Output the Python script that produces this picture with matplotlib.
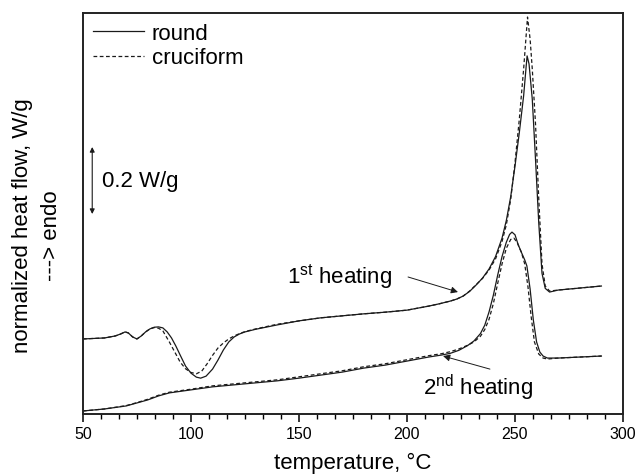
import numpy as np
import matplotlib
matplotlib.use("Agg")
import matplotlib.pyplot as plt
from matplotlib.ticker import MultipleLocator

plt.rcParams["font.family"] = ["Liberation Sans", "DejaVu Sans"]
plt.rcParams["mathtext.fontset"] = "custom"
plt.rcParams["mathtext.rm"] = "Liberation Sans"

# ---------------------------
# Data (temperature in °C, heat flow in W/g, offset arbitrary)
# ---------------------------
t1_round = [50, 60, 65, 67.5, 69.5, 71, 73, 75, 77, 79, 81, 83, 85, 87, 89, 91, 93, 95,
            97.5, 100, 102.5, 104.5, 107, 110, 112.5, 115, 117.5, 120, 122.5, 125, 130,
            140, 150, 160, 170, 180, 190, 200, 210, 215, 220, 223, 226, 229, 232, 235,
            238, 241, 244, 246, 248, 250, 252, 254, 255, 255.6, 256.5, 258, 259.5, 261,
            262.5, 264, 266, 270, 280, 290]
hf1_round = [0.224, 0.227, 0.233, 0.239, 0.245, 0.242, 0.230, 0.224, 0.233, 0.245, 0.254,
             0.259, 0.260, 0.257, 0.245, 0.227, 0.203, 0.176, 0.143, 0.122, 0.110, 0.107,
             0.113, 0.134, 0.161, 0.191, 0.215, 0.230, 0.239, 0.245, 0.253, 0.266, 0.278,
             0.287, 0.293, 0.299, 0.304, 0.310, 0.322, 0.329, 0.337, 0.343, 0.352, 0.366,
             0.385, 0.406, 0.433, 0.470, 0.525, 0.578, 0.648, 0.740, 0.840, 0.950, 1.025,
             1.069, 1.045, 0.940, 0.760, 0.570, 0.420, 0.375, 0.364, 0.370, 0.376, 0.382]

t1_cross = [50, 60, 65, 67.5, 69.5, 71, 73, 75, 77, 79, 81, 83, 85, 87, 90, 92.5, 95,
            97.5, 100, 102.5, 105, 107.5, 110, 112.5, 115, 117.5, 120, 122.5, 125, 130,
            140, 150, 160, 170, 180, 190, 200, 210, 215, 220, 223, 226, 229, 232, 235,
            238, 241, 244, 246, 248, 250, 252, 254, 255.8, 257, 258, 259.5, 261, 262.5,
            264, 266, 270, 280, 290]
hf1_cross = [0.224, 0.227, 0.233, 0.239, 0.245, 0.242, 0.230, 0.224, 0.233, 0.245, 0.254,
             0.258, 0.256, 0.248, 0.215, 0.185, 0.155, 0.135, 0.124, 0.120, 0.128, 0.150,
             0.175, 0.197, 0.212, 0.224, 0.233, 0.240, 0.246, 0.254, 0.268, 0.278, 0.287,
             0.293, 0.299, 0.304, 0.310, 0.322, 0.329, 0.337, 0.343, 0.352, 0.367, 0.386,
             0.405, 0.430, 0.463, 0.515, 0.565, 0.640, 0.750, 0.880, 1.030, 1.185, 1.119,
             1.030, 0.866, 0.642, 0.448, 0.382, 0.367, 0.370, 0.376, 0.382]

t2_round = [50, 60, 70, 75, 80, 85, 90, 100, 110, 120, 130, 140, 150, 160, 170, 180, 190,
            200, 210, 216, 220, 224, 228, 231, 234, 236, 238, 240, 242, 244, 246, 247.5,
            248.6, 250, 251.5, 253, 254.5, 255.5, 257, 258.5, 260, 261.5, 263, 265, 270,
            280, 290]
hf2_round = [0.009, 0.015, 0.024, 0.033, 0.042, 0.054, 0.063, 0.072, 0.081, 0.087, 0.093,
             0.099, 0.107, 0.116, 0.125, 0.137, 0.146, 0.158, 0.170, 0.176, 0.181, 0.190,
             0.204, 0.218, 0.240, 0.265, 0.305, 0.355, 0.415, 0.470, 0.513, 0.536, 0.543,
             0.535, 0.505, 0.482, 0.460, 0.442, 0.373, 0.280, 0.215, 0.185, 0.173, 0.167,
             0.167, 0.170, 0.173]

t2_cross = [50, 60, 70, 75, 80, 85, 90, 100, 110, 120, 130, 140, 150, 160, 170, 180, 190,
            200, 210, 216, 220, 224, 228, 231, 234, 236, 238, 240, 242, 244, 246, 248,
            249.5, 251, 253, 254.5, 256, 257.5, 259, 261, 263, 265, 270, 280, 290]
hf2_cross = [0.009, 0.015, 0.025, 0.034, 0.044, 0.056, 0.065, 0.074, 0.084, 0.090, 0.096,
             0.102, 0.111, 0.120, 0.129, 0.141, 0.150, 0.162, 0.174, 0.180, 0.186, 0.194,
             0.205, 0.215, 0.232, 0.252, 0.283, 0.330, 0.390, 0.448, 0.495, 0.521, 0.525,
             0.512, 0.482, 0.448, 0.380, 0.290, 0.215, 0.179, 0.167, 0.164, 0.167, 0.170,
             0.173]

# ---------------------------
# Plot
# ---------------------------
fig = plt.figure(figsize=(6.38, 4.77), dpi=100)
ax = fig.add_axes([0.130, 0.130, 0.8465, 0.8406])

line_kw = dict(color="#1a1a1a", linewidth=0.9)
ax.plot(t1_round, hf1_round, linestyle="-", label="round", **line_kw)
ax.plot(t1_cross, hf1_cross, linestyle=(0, (3, 2)), label="cruciform", **line_kw)
ax.plot(t2_round, hf2_round, linestyle="-", **line_kw)
ax.plot(t2_cross, hf2_cross, linestyle=(0, (3, 2)), **line_kw)

ax.set_xlim(50, 300)
ax.set_ylim(0, 1.197)
ax.xaxis.set_major_locator(MultipleLocator(50))
ax.xaxis.set_minor_locator(MultipleLocator(50 / 6))
ax.set_yticks([])
ax.tick_params(axis="x", which="major", direction="out", length=5.5, width=1.1,
               labelsize=11.5, pad=3)
ax.tick_params(axis="x", which="minor", direction="out", length=3.5, width=1.0)
ax.tick_params(axis="x", top=False)
for sp in ax.spines.values():
    sp.set_linewidth(1.4)
    sp.set_color("#222222")

ax.set_xlabel("temperature, °C", fontsize=16, labelpad=8)
fig.text(0.036, 0.526, "normalized heat flow, W/g", rotation=90, fontsize=16,
         ha="center", va="center")
fig.text(0.0815, 0.505, "---> endo", rotation=90, fontsize=16,
         ha="center", va="center")

ax.legend(loc="upper left", bbox_to_anchor=(0, 1), frameon=False, fontsize=16,
          handlelength=2.3, handletextpad=0.35, labelspacing=0.15,
          borderaxespad=0.0, borderpad=0.45)

# scale bar
ax.annotate("", xy=(54.3, 0.797), xytext=(54.3, 0.597),
            arrowprops=dict(arrowstyle="<|-|>", color="#1a1a1a", lw=0.8,
                            mutation_scale=7, shrinkA=0, shrinkB=0))
ax.text(58.8, 0.697, "0.2 W/g", fontsize=16, ha="left", va="center")

# curve labels
ax.text(144.4, 0.394, r"$\mathrm{1^{st}}$ heating", fontsize=16, ha="left",
        va="baseline")
ax.annotate("", xy=(223.6, 0.364), xytext=(200.5, 0.409),
            arrowprops=dict(arrowstyle="-|>", color="#1a1a1a", lw=0.7,
                            mutation_scale=10, shrinkA=0, shrinkB=0))
ax.text(207.4, 0.060, r"$\mathrm{2^{nd}}$ heating", fontsize=16, ha="left",
        va="baseline")
ax.annotate("", xy=(216.7, 0.173), xytext=(238.4, 0.134),
            arrowprops=dict(arrowstyle="-|>", color="#1a1a1a", lw=0.7,
                            mutation_scale=10, shrinkA=0, shrinkB=0))

fig.savefig("out.png", dpi=100)
